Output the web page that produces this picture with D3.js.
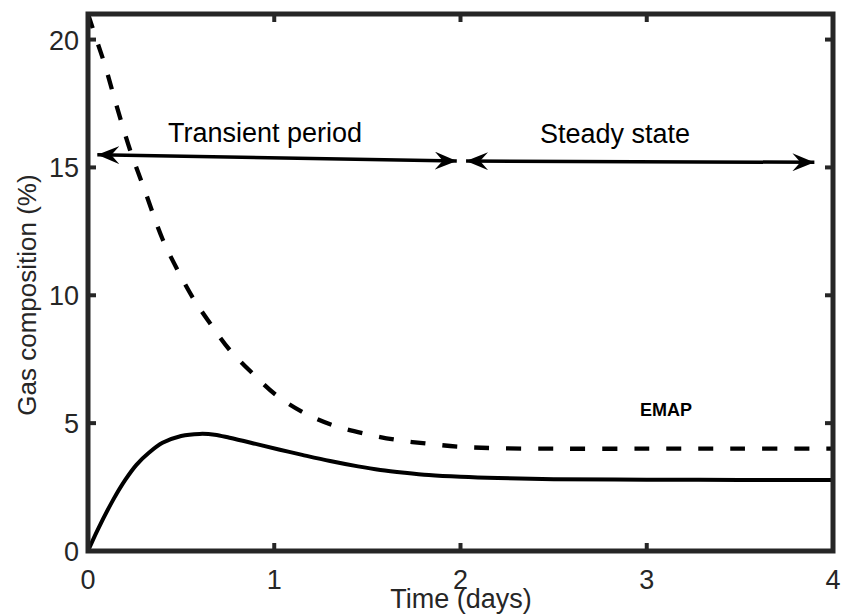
<!DOCTYPE html>
<html>
<head>
<meta charset="utf-8">
<script src="https://cdn.jsdelivr.net/npm/d3@7"></script>
<style>
  body { margin: 0; background: #fff; }
  text { font-family: "Liberation Sans", Arial, sans-serif; }
</style>
</head>
<body>
<div id="chart"></div>
<script>
// Data (time in days, gas composition in %)
var dashedTime = [0, 0.05, 0.091, 0.15, 0.225, 0.3, 0.4, 0.48, 0.56, 0.654, 0.76, 0.88, 1.01, 1.15, 1.31, 1.49, 1.66, 1.82, 1.99, 2.2, 2.5, 3, 3.5, 4];
var dashedValue = [21.0, 19.9, 19.0, 17.5, 15.7, 14.2, 12.2, 11.0, 9.94, 8.92, 7.87, 6.97, 6.1, 5.44, 4.93, 4.58, 4.34, 4.2, 4.08, 4.02, 4.0, 4.0, 4.0, 4.0];
var solidTime = [0, 0.05, 0.135, 0.2, 0.26, 0.33, 0.4, 0.5, 0.6, 0.68, 0.76, 0.9, 1.03, 1.15, 1.3, 1.45, 1.57, 1.7, 1.83, 2.0, 2.2, 2.5, 3, 3.5, 4];
var solidValue = [0, 0.8, 2.0, 2.78, 3.37, 3.86, 4.23, 4.5, 4.58, 4.55, 4.43, 4.19, 3.96, 3.76, 3.52, 3.31, 3.17, 3.06, 2.97, 2.9, 2.85, 2.81, 2.79, 2.78, 2.78];
var xTicks = [0, 1, 2, 3, 4];
var yTicks = [0, 5, 10, 15, 20];
// annotation arrows: [t0, y0, t1, y1]
var transientArrow = [0.05, 15.5, 1.98, 15.25];
var steadyArrow = [2.03, 15.25, 3.9, 15.2];

var width = 843, height = 614;
var margin = {top: 14, right: 10, bottom: 63, left: 88};
var axisColor = "#262626";

var svg = d3.select("#chart").append("svg")
    .attr("width", width)
    .attr("height", height);

var x = d3.scaleLinear().domain([0, 4]).range([margin.left, width - margin.right]);
var y = d3.scaleLinear().domain([0, 21]).range([height - margin.bottom, margin.top]);

// arrow head marker
var defs = svg.append("defs");
defs.append("marker")
    .attr("id", "head")
    .attr("viewBox", "0 0 22 18")
    .attr("refX", 22)
    .attr("refY", 9)
    .attr("markerWidth", 22)
    .attr("markerHeight", 18)
    .attr("markerUnits", "userSpaceOnUse")
    .attr("orient", "auto-start-reverse")
    .append("path")
    .attr("d", "M22,9 L0,0 L8,9 L0,18 Z")
    .attr("fill", "#000");

// lines
var line = d3.line()
    .x(function(d) { return x(d[0]); })
    .y(function(d) { return y(d[1]); })
    .curve(d3.curveCatmullRom.alpha(0.5));

svg.append("path")
    .datum(dashedTime.map(function(t, i) { return [t, dashedValue[i]]; }))
    .attr("fill", "none")
    .attr("stroke", "#000")
    .attr("stroke-width", 4.3)
    .attr("stroke-dasharray", "15,17")
    .attr("d", line);

svg.append("path")
    .datum(solidTime.map(function(t, i) { return [t, solidValue[i]]; }))
    .attr("fill", "none")
    .attr("stroke", "#000")
    .attr("stroke-width", 4)
    .attr("d", line);

// axes: ticks inward on all four sides
var x0 = x(0), x1 = x(4), y0 = y(0), y1 = y(21);
var tickLen = 8;
var ticks = svg.append("g").attr("stroke", axisColor).attr("stroke-width", 4);
xTicks.slice(1, -1).forEach(function(t) {
  ticks.append("line").attr("x1", x(t)).attr("x2", x(t)).attr("y1", y0).attr("y2", y0 - tickLen);
  ticks.append("line").attr("x1", x(t)).attr("x2", x(t)).attr("y1", y1).attr("y2", y1 + tickLen);
});
yTicks.slice(1).forEach(function(v) {
  ticks.append("line").attr("x1", x0).attr("x2", x0 + tickLen).attr("y1", y(v)).attr("y2", y(v));
  ticks.append("line").attr("x1", x1).attr("x2", x1 - tickLen).attr("y1", y(v)).attr("y2", y(v));
});

svg.append("rect")
    .attr("x", x0)
    .attr("y", y1)
    .attr("width", x1 - x0)
    .attr("height", y0 - y1)
    .attr("fill", "none")
    .attr("stroke", axisColor)
    .attr("stroke-width", 5);

// tick labels
svg.selectAll(".xlab").data(xTicks).enter().append("text")
    .attr("x", function(d) { return x(d); })
    .attr("y", y0 + 38)
    .attr("text-anchor", "middle")
    .style("font-size", "27px")
    .attr("fill", axisColor)
    .text(function(d) { return d; });

svg.selectAll(".ylab").data(yTicks).enter().append("text")
    .attr("x", x0 - 9)
    .attr("y", function(d) { return y(d) + 10; })
    .attr("text-anchor", "end")
    .style("font-size", "27px")
    .attr("fill", axisColor)
    .text(function(d) { return d; });

// axis titles
svg.append("text")
    .attr("x", 461)
    .attr("y", 608)
    .attr("text-anchor", "middle")
    .style("font-size", "27px")
    .attr("fill", axisColor)
    .text("Time (days)");

svg.append("text")
    .attr("transform", "translate(36,295) rotate(-90)")
    .attr("text-anchor", "middle")
    .style("font-size", "26px")
    .attr("fill", axisColor)
    .text("Gas composition (%)");

// annotations
[transientArrow, steadyArrow].forEach(function(a) {
  svg.append("line")
      .attr("x1", x(a[0])).attr("y1", y(a[1]))
      .attr("x2", x(a[2])).attr("y2", y(a[3]))
      .attr("stroke", "#000")
      .attr("stroke-width", 3.5)
      .attr("marker-start", "url(#head)")
      .attr("marker-end", "url(#head)");
});

svg.append("text")
    .attr("x", 168)
    .attr("y", 142)
    .style("font-size", "27px")
    .text("Transient period");

svg.append("text")
    .attr("x", 540)
    .attr("y", 143)
    .style("font-size", "27px")
    .text("Steady state");

svg.append("text")
    .attr("x", 640)
    .attr("y", 416)
    .style("font-size", "18px")
    .style("font-weight", "bold")
    .text("EMAP");
</script>
</body>
</html>
